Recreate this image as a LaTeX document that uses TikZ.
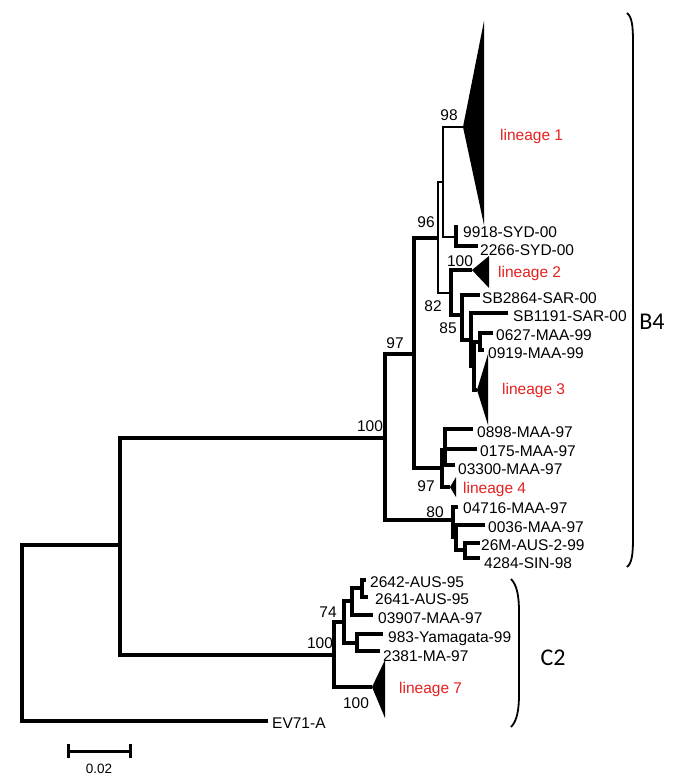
\documentclass[tikz,border=0pt]{standalone}
\usepackage{fontspec}
\setmainfont{Liberation Sans}
\newfontfamily\cladefont{Carlito}
\definecolor{linred}{RGB}{228,32,32}
\begin{document}
\begin{tikzpicture}[x=1pt,y=-1pt,
  br/.style={line width=3.2pt,line join=miter},
  thinbr/.style={line width=1.5pt,line join=miter},
  leaf/.style={anchor=base west,inner sep=0pt,font=\fontsize{15.5}{18}\selectfont},
  boot/.style={anchor=center,inner sep=0pt,font=\fontsize{15.5}{18}\selectfont},
  lin/.style={anchor=base west,inner sep=0pt,text=linred,font=\fontsize{15.5}{18}\selectfont},
  clade/.style={anchor=center,inner sep=0pt,font=\cladefont\fontsize{24}{28}\selectfont},
  tri/.style={fill=black},
  bracket/.style={line width=1.8pt},
  scalebar/.style={line width=3pt}]
\useasboundingbox (0,0) rectangle (685,777);

% ---------- inner nodes ----------
\coordinate (R)     at (22,633);
\coordinate (N1)    at (120,545);
\coordinate (B4n)   at (385,438);
\coordinate (n97)   at (414,354);
\coordinate (n96)   at (438,238);
\coordinate (n98p)  at (443,182);
\coordinate (nSYD)  at (456,237);
\coordinate (n82)   at (451,293);
\coordinate (n85)   at (462,315);
\coordinate (nA)    at (471,340);
\coordinate (nX)    at (474,366);
\coordinate (nM99)  at (480,342);
\coordinate (nL4)   at (442,468);
\coordinate (nB)    at (445,450);
\coordinate (n80)   at (453,520);
\coordinate (nD)    at (456,537);
\coordinate (nE)    at (465,550);
\coordinate (C2n)   at (334,655);
\coordinate (n74)   at (344,622);
\coordinate (nF)    at (352,601);
\coordinate (nG)    at (362,588);
\coordinate (nH)    at (357,643);

% ---------- tips ----------
\coordinate (t9918)  at (458,227);
\coordinate (t2266)  at (478,246);
\coordinate (tSB2864) at (480,295);
\coordinate (tSB1191) at (508,313);
\coordinate (t0627)  at (493,333);
\coordinate (t0919)  at (484,350);
\coordinate (t0898)  at (473,429);
\coordinate (t0175)  at (477,449);
\coordinate (t03300) at (455,465);
\coordinate (t04716) at (458,507);
\coordinate (t0036)  at (485,525);
\coordinate (t26M)   at (480,543);
\coordinate (t4284)  at (480,558);
\coordinate (t2642)  at (366,580);
\coordinate (t2641)  at (368,597);
\coordinate (t03907) at (373,615);
\coordinate (t983)   at (383,634);
\coordinate (t2381)  at (380,651);
\coordinate (tEV)    at (268,721);

% ---------- collapsed lineages (triangles) ----------
\coordinate (L1a) at (463,127); \coordinate (L1t) at (484,21);  \coordinate (L1b) at (484,225);
\coordinate (L2a) at (472,270); \coordinate (L2t) at (489,256); \coordinate (L2b) at (489,288);
\coordinate (L3a) at (477,390); \coordinate (L3t) at (488,354); \coordinate (L3b) at (488,425);
\coordinate (L4a) at (450,487); \coordinate (L4t) at (456,477); \coordinate (L4b) at (456,497);
\coordinate (L7a) at (372,687); \coordinate (L7t) at (385,660); \coordinate (L7b) at (385,718);

\fill[tri] (L1a) -- (L1t) -- (L1b) -- cycle;
\fill[tri] (L2a) -- (L2t) -- (L2b) -- cycle;
\fill[tri] (L3a) -- (L3t) -- (L3b) -- cycle;
\fill[tri] (L4a) -- (L4t) -- (L4b) -- cycle;
\fill[tri] (L7a) -- (L7t) -- (L7b) -- cycle;

% ---------- branches ----------
\draw[br] (R) |- (N1);
\draw[br] (R) |- (tEV);
\draw[br] (N1) |- (B4n);
\draw[br] (N1) |- (C2n);
\draw[br] (B4n) |- (n97);
\draw[br] (B4n) |- (n80);
\draw[br] (n97) |- (n96);
\draw[br] (n97) |- (nL4);
\draw[thinbr] (n96) |- (n98p);
\draw[thinbr] (n96) |- (n82);
\draw[thinbr] (n98p) |- (L1a);
\draw[thinbr] (n98p) |- (nSYD);
\draw[br] (nSYD) |- (t9918);
\draw[br] (nSYD) |- (t2266);
\draw[br] (n82) |- (L2a);
\draw[br] (n82) |- (n85);
\draw[br] (n85) |- (tSB2864);
\draw[br] (n85) |- (nA);
\draw[br] (nA) |- (tSB1191);
\draw[br] (nA) |- (nX);
\draw[br] (nX) |- (nM99);
\draw[br] (nX) |- (L3a);
\draw[br] (nM99) |- (t0627);
\draw[br] (nM99) |- (t0919);
\draw[br] (nL4) |- (nB);
\draw[br] (nL4) |- (L4a);
\draw[br] (nB) |- (t0898);
\draw[br] (nB) |- (t0175);
\draw[br] (nB) |- (t03300);
\draw[br] (n80) |- (t04716);
\draw[br] (n80) |- (nD);
\draw[br] (nD) |- (t0036);
\draw[br] (nD) |- (nE);
\draw[br] (nE) |- (t26M);
\draw[br] (nE) |- (t4284);
\draw[br] (C2n) |- (n74);
\draw[br] (C2n) |- (L7a);
\draw[br] (n74) |- (nF);
\draw[br] (n74) |- (nH);
\draw[br] (nF) |- (nG);
\draw[br] (nF) |- (t03907);
\draw[br] (nG) |- (t2642);
\draw[br] (nG) |- (t2641);
\draw[br] (nH) |- (t983);
\draw[br] (nH) |- (t2381);

% ---------- leaf labels ----------
\node[leaf] (l9918)  at (463,237.5) {9918-SYD-00};
\node[leaf] (l2266)  at (480,255.5) {2266-SYD-00};
\node[leaf] (lSB2864) at (482,303.5) {SB2864-SAR-00};
\node[leaf] (lSB1191) at (513,321.5) {SB1191-SAR-00};
\node[leaf] (l0627)  at (496,340.5) {0627-MAA-99};
\node[leaf] (l0919)  at (488,358.5) {0919-MAA-99};
\node[leaf] (l0898)  at (477,437.5) {0898-MAA-97};
\node[leaf] (l0175)  at (480,456.5) {0175-MAA-97};
\node[leaf] (l03300) at (458,474.5) {03300-MAA-97};
\node[leaf] (l04716) at (463,513.5) {04716-MAA-97};
\node[leaf] (l0036)  at (488,532.5) {0036-MAA-97};
\node[leaf] (l26M)   at (481,550.5) {26M-AUS-2-99};
\node[leaf] (l4284)  at (484,568.5) {4284-SIN-98};
\node[leaf] (l2642)  at (370,587.5) {2642-AUS-95};
\node[leaf] (l2641)  at (375,604.5) {2641-AUS-95};
\node[leaf] (l03907) at (378,623.5) {03907-MAA-97};
\node[leaf] (l983)   at (388,642.5) {983-Yamagata-99};
\node[leaf] (l2381)  at (383,661.5) {2381-MA-97};
\node[leaf] (lEV)    at (272,728.5) {EV71-A};

% ---------- lineage labels ----------
\node[lin] (lin1) at (500,140) {lineage 1};
\node[lin] (lin2) at (498,277) {lineage 2};
\node[lin] (lin3) at (502,394) {lineage 3};
\node[lin] (lin4) at (463,493) {lineage 4};
\node[lin] (lin7) at (399,693) {lineage 7};

% ---------- bootstrap values ----------
\node[boot] (b100a) at (370,426) {100};
\node[boot] (b97a)  at (395,343) {97};
\node[boot] (b96)   at (426,222) {96};
\node[boot] (b98)   at (449,115) {98};
\node[boot] (b100b) at (460,261) {100};
\node[boot] (b82)   at (433,306) {82};
\node[boot] (b85)   at (448,328) {85};
\node[boot] (b97b)  at (426,486) {97};
\node[boot] (b80)   at (435,512) {80};
\node[boot] (b74)   at (328,612) {74};
\node[boot] (b100c) at (320,643) {100};
\node[boot] (b100d) at (356,703) {100};

% ---------- clade brackets ----------
\draw[bracket] (627,13) .. controls (632,17) and (633,26) .. (633,42) -- (633,538) .. controls (633,554) and (632,563) .. (627,567);
\draw[bracket] (511,579) .. controls (517,585) and (519,596) .. (519,612) -- (519,694) .. controls (519,710) and (517,721) .. (511,727);
\node[clade] (cB4) at (652,322) {B4};
\node[clade] (cC2) at (553,658) {C2};

% ---------- scale bar ----------
\coordinate (sbL) at (68,751);
\coordinate (sbR) at (130,751);
\draw[scalebar] (sbL) -- (sbR);
\draw[scalebar] ([yshift=-7pt]sbL) -- ([yshift=7pt]sbL);
\draw[scalebar] ([yshift=-7pt]sbR) -- ([yshift=7pt]sbR);
\node[anchor=center,inner sep=0pt,font=\fontsize{13.5}{16}\selectfont] (sblab) at (99,769) {0.02};
\end{tikzpicture}
\end{document}
